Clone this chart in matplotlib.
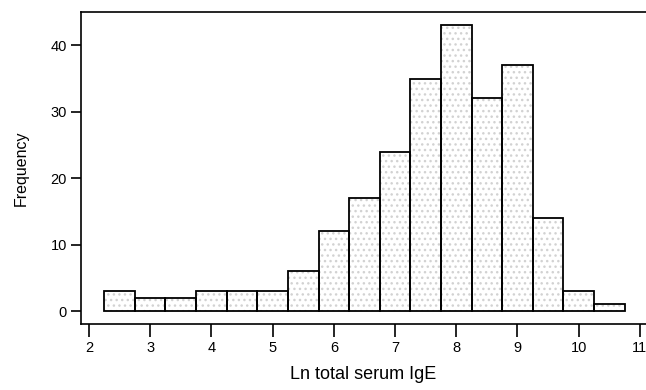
import numpy as np
import matplotlib.pyplot as plt

plt.rcParams['font.family'] = ['Liberation Sans', 'DejaVu Sans']

# histogram of ln total serum IgE, bin width 0.5
bin_edges = [2.25, 2.75, 3.25, 3.75, 4.25, 4.75, 5.25, 5.75, 6.25,
             6.75, 7.25, 7.75, 8.25, 8.75, 9.25, 9.75, 10.25, 10.75]
counts = [3, 2, 2, 3, 3, 3, 6, 12, 17, 24, 35, 43, 32, 37, 14, 3, 1]
x_ticks = [2, 3, 4, 5, 6, 7, 8, 9, 10, 11]
y_ticks = [0, 10, 20, 30, 40]

fig = plt.figure(figsize=(6.46, 3.9), dpi=100)
ax = fig.add_axes([0.1254, 0.169, 0.8746, 0.8])

lefts = np.array(bin_edges[:-1])
widths = np.diff(bin_edges)

# sparse dotted grey fill, then black outlines
ax.bar(lefts, counts, width=widths, align='edge', color='white',
       edgecolor='#d2d2d2', hatch='...', linewidth=0)
ax.bar(lefts, counts, width=widths, align='edge', fill=False,
       edgecolor='black', linewidth=1.3)

ax.set_xlim(1.87, 11.1)
ax.set_ylim(-1.95, 45)
ax.set_xticks(x_ticks)
ax.set_yticks(y_ticks)

ax.spines['right'].set_visible(False)
for s in ['left', 'bottom', 'top']:
    ax.spines[s].set_linewidth(1.2)

ax.tick_params(axis='y', direction='out', length=7, width=1.2, labelsize=10.5, pad=3)
ax.tick_params(axis='x', direction='out', length=9, width=1.2, labelsize=10.5, pad=3)

ax.set_xlabel('Ln total serum IgE', fontsize=13, labelpad=8)
ax.set_ylabel('Frequency', fontsize=11.5, labelpad=16)

fig.savefig('out.png', dpi=100)
